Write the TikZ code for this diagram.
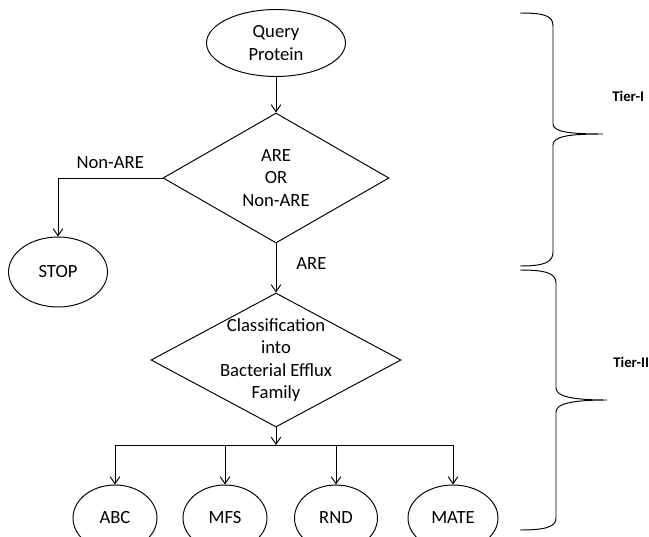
\documentclass[tikz,border=0pt]{standalone}
\usepackage{fontspec}
\setmainfont{Carlito}
\usetikzlibrary{shapes.geometric, arrows.meta}

\begin{document}
\begin{tikzpicture}[x=0.02cm, y=-0.02cm, line width=0.55pt,
    >={Straight Barb[length=4pt, width=5.5pt]},
    every node/.style={font=\fontsize{10.6}{12.6}\selectfont, align=center},
    oval/.style={draw, ellipse, inner sep=0pt},
    decision/.style={draw, diamond, aspect=1.8, inner sep=-8pt},
    tier/.style={font=\fontsize{8.4}{10}\selectfont\bfseries, anchor=west}]
  \useasboundingbox (0, 0) rectangle (649, 537);
  \clip (0, 0) rectangle (649, 537);

  % tier I
  \node [oval, minimum width=2.78cm, minimum height=1.34cm] (query) at (276, 43) {Query\\Protein};
  \node [decision, minimum width=4.52cm, minimum height=2.6cm] (arenon) at (276, 178) {ARE\\OR\\Non-ARE};
  \node [oval, minimum width=1.98cm, minimum height=1.4cm] (stop) at (58, 272) {STOP};

  \draw [->] (query) -- (arenon);
  \draw [->] (arenon.west) -| node [pos=0.25, above=2pt] {Non-ARE} (stop);

  % tier II
  \node [decision, minimum width=5cm, minimum height=2.68cm] (family) at (276, 360) {Classification\\into\\Bacterial Efflux\\Family};
  \coordinate (split) at (276, 445);

  \node [oval, minimum width=1.68cm, minimum height=1.32cm] (abc) at (115, 518) {ABC};
  \node [oval, minimum width=1.68cm, minimum height=1.32cm] (mfs) at (225, 518) {MFS};
  \node [oval, minimum width=1.66cm, minimum height=1.32cm] (rnd) at (336, 518) {RND};
  \node [oval, minimum width=1.8cm, minimum height=1.32cm] (mate) at (453, 518) {MATE};

  \draw [->] (arenon) -- node [pos=0.4, right=8pt] {ARE} (family);
  \draw [->] (family) -- (split);
  \draw (split -| abc) -- (split -| mate);
  \foreach \fam in {abc, mfs, rnd, mate}
    \draw [->] (split -| \fam) -- (\fam);

  % braces
  \draw (520, 13) .. controls (545, 13) and (553, 16) .. (553, 26) -- (553, 124)
    .. controls (553, 132) and (570, 134) .. (603, 134)
    .. controls (570, 134) and (553, 136) .. (553, 145) -- (553, 252)
    .. controls (553, 262) and (545, 266) .. (520, 266);
  \draw (520, 270) .. controls (545, 270) and (556, 273) .. (556, 283) -- (556, 388)
    .. controls (556, 397) and (575, 400) .. (607, 400)
    .. controls (575, 400) and (556, 403) .. (556, 412) -- (556, 518)
    .. controls (556, 527) and (545, 530) .. (520, 530);

  \node [tier] (tierone) at (606, 96) {Tier-I};
  \node [tier] (tiertwo) at (607, 362) {Tier-II};
\end{tikzpicture}
\end{document}
